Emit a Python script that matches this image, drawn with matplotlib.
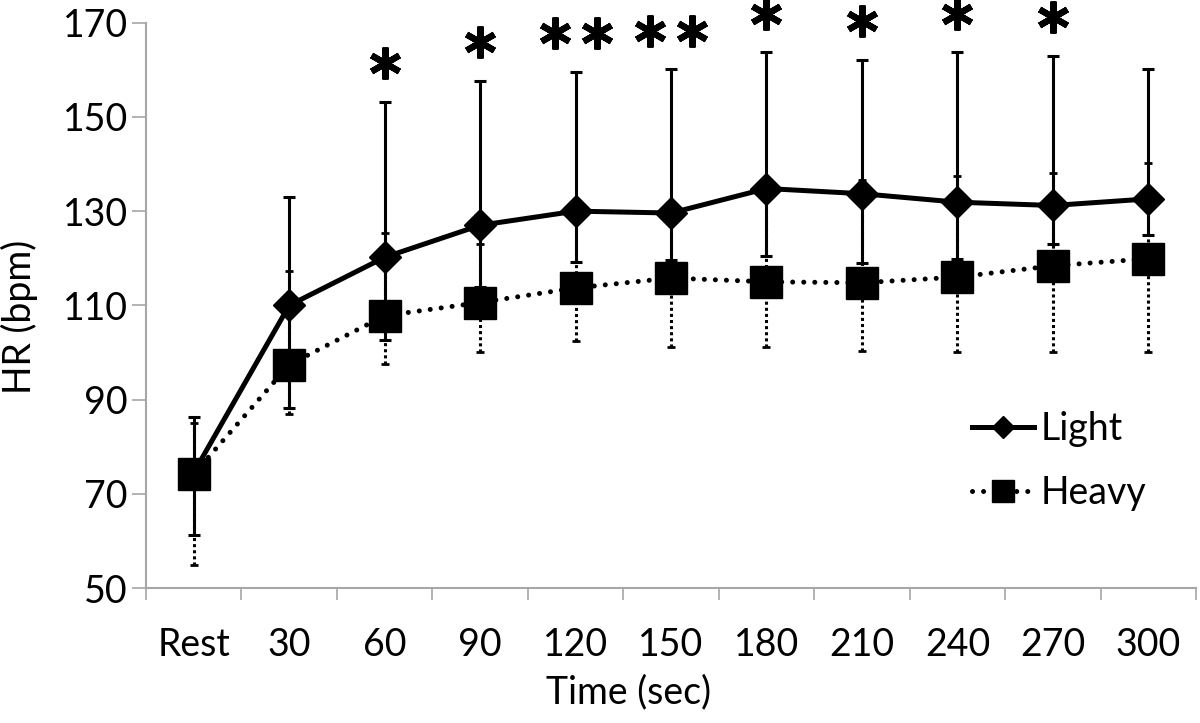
import numpy as np
import matplotlib
matplotlib.use('Agg')
import matplotlib.pyplot as plt

plt.rcParams['font.family'] = ['Lato', 'DejaVu Sans']

categories = ['Rest', '30', '60', '90', '120', '150', '180', '210', '240', '270', '300']
light_mean = [74.5, 110.0, 120.2, 127.0, 130.0, 129.6, 134.8, 133.7, 131.9, 131.2, 132.6]
light_upper = [86.3, 133.1, 153.2, 157.6, 159.6, 160.1, 163.7, 162.1, 163.7, 163.0, 160.1]
light_lower = [61.2, 88.2, 102.6, 114.0, 119.1, 119.7, 120.4, 119.0, 119.9, 123.0, 125.0]
heavy_mean = [74.2, 97.4, 107.8, 110.6, 113.7, 115.8, 115.0, 114.8, 116.0, 118.4, 119.9]
heavy_upper = [85.1, 117.2, 125.4, 123.1, 128.0, 129.0, 133.0, 136.7, 137.4, 138.2, 140.3]
heavy_lower = [54.8, 87.0, 97.5, 100.2, 102.5, 101.1, 101.2, 100.4, 100.0, 100.0, 100.0]
stars = ['', '', '*', '*', '**', '**', '*', '*', '*', '*', '']

x = np.arange(len(categories))
lm = np.array(light_mean)
hm = np.array(heavy_mean)
grey = '#a6a6a6'

fig = plt.figure(figsize=(12, 7.23), dpi=100)
ax = fig.add_axes([0.1217, 0.1867, 0.875, 0.7819])

# error bars
ax.errorbar(x, lm, yerr=[lm - np.array(light_lower), np.array(light_upper) - lm],
            fmt='none', ecolor='black', elinewidth=2.2, capsize=4.3, capthick=2.2, zorder=2)
eb = ax.errorbar(x, hm, yerr=[hm - np.array(heavy_lower), np.array(heavy_upper) - hm],
                 fmt='none', ecolor='black', elinewidth=2.2, capsize=3, capthick=2, zorder=3)
for lc in eb[2]:
    lc.set_linestyle((0, (1, 1)))

l1, = ax.plot(x, lm, color='black', lw=3.6, marker='D', markersize=16, zorder=4, label='Light')
l2, = ax.plot(x, hm, color='black', lw=3.6, linestyle=(0, (0.01, 2.2)), dash_capstyle='round',
              marker='s', markersize=23, zorder=5, label='Heavy')

# significance stars
sx, sy = [], []
for i, s in enumerate(stars):
    if not s:
        continue
    offs = [0.0] if len(s) == 1 else [-0.22, 0.22]
    for o in offs:
        sx.append(x[i] + o)
        sy.append(light_upper[i] + 8.2)
ax.plot(sx, sy, linestyle='none', marker=(6, 2, 0), markersize=23, mew=4.5,
        color='black', clip_on=False)

ax.set_xlim(-0.47, 10.5)
ax.set_ylim(50, 170)
ax.set_yticks(range(50, 171, 20))
ax.set_xticks(x)
ax.set_xticklabels(categories)
ax.set_xticks(np.arange(-0.5, 10.6, 1), minor=True)

for side in ['top', 'right']:
    ax.spines[side].set_visible(False)
for side in ['left', 'bottom']:
    ax.spines[side].set_color(grey)
    ax.spines[side].set_linewidth(1.5)

ax.tick_params(axis='y', direction='out', length=10, width=1.2, color=grey, labelsize=27, pad=3)
ax.tick_params(axis='x', which='major', length=0, labelsize=27, pad=28)
ax.tick_params(axis='x', which='minor', direction='out', length=8.5, width=1.2, color=grey)

ax.set_xlabel('Time (sec)', fontsize=27)
ax.set_ylabel('HR (bpm)', fontsize=27)
ax.xaxis.set_label_coords(0.46, -0.152)
ax.yaxis.set_label_coords(-0.103, 0.48)

ax.legend(handles=[l1, l2], loc='center left', bbox_to_anchor=(0.787, 0.225), frameon=False,
          fontsize=27, markerscale=0.7, handlelength=1.63, handletextpad=0.2,
          labelspacing=0.75, borderpad=0, borderaxespad=0)

fig.savefig('out.png', dpi=100)
